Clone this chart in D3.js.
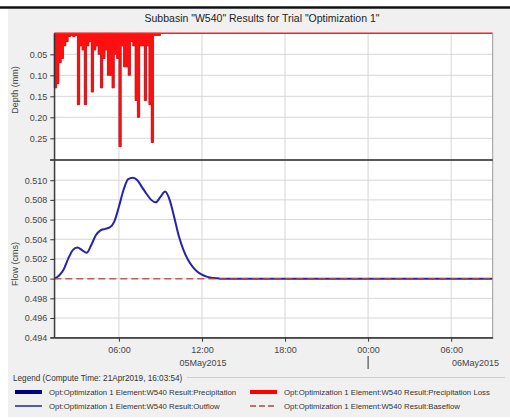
<!DOCTYPE html>
<html><head><meta charset="utf-8">
<script src="https://cdn.jsdelivr.net/npm/d3@7"></script>
<style>body{margin:0;background:#fff}svg{display:block;font-family:"Liberation Sans",Arial,sans-serif}</style>
</head><body><svg id="c" width="510" height="419"></svg>
<script>
// ---- data ----
const lossStart = "2015-05-05T01:20:00Z";
const lossStepMin = 10;
const lossDepth = [0.13,0.12,0.07,0.06,0.03,0.02,0.008,0.005,0.008,0.005,
  0.17,0.03,0.04,0.17,0.03,0.02,0.14,0.04,0.03,0.05,
  0.13,0.06,0.04,0.10,0.10,0.13,0.05,0.06,0.27,0.03,
  0.08,0.08,0.10,0.02,0.03,0.16,0.20,0.03,0.03,0.16,
  0.03,0.17,0.26,0.005,0.005,0.005];
const precipDepth = lossDepth.slice();
const flowTimes = ["2015-05-05T01:20","2015-05-05T01:40","2015-05-05T02:00","2015-05-05T02:20","2015-05-05T02:40",
  "2015-05-05T03:00","2015-05-05T03:20","2015-05-05T03:40","2015-05-05T04:00","2015-05-05T04:20","2015-05-05T04:40",
  "2015-05-05T05:00","2015-05-05T05:20","2015-05-05T05:40","2015-05-05T06:00","2015-05-05T06:20","2015-05-05T06:40",
  "2015-05-05T07:00","2015-05-05T07:20","2015-05-05T07:40","2015-05-05T08:00","2015-05-05T08:20","2015-05-05T08:40",
  "2015-05-05T09:00","2015-05-05T09:20","2015-05-05T09:40","2015-05-05T10:00","2015-05-05T10:20","2015-05-05T10:40",
  "2015-05-05T11:00","2015-05-05T11:20","2015-05-05T11:40","2015-05-05T12:00","2015-05-05T12:20","2015-05-05T12:40",
  "2015-05-05T13:00","2015-05-05T13:20","2015-05-06T09:00"];
const outflow = [0.5000,0.5003,0.5009,0.5020,0.5029,
  0.50315,0.5029,0.50262,0.5034,0.5044,0.5049,
  0.50505,0.5052,0.5058,0.5073,0.5090,0.5101,
  0.51025,0.5100,0.5093,0.5086,0.5080,0.50775,
  0.5083,0.50885,0.5080,0.5062,0.5043,0.5029,
  0.5019,0.5012,0.5007,0.5004,0.5002,0.5001,
  0.50005,0.5000,0.5000];
const baseTimes = ["2015-05-05T01:20","2015-05-06T09:00"];
const baseflow = [0.500,0.500];
const timeDomain = ["2015-05-05T01:20","2015-05-06T09:00"];
const timeTicks = ["2015-05-05T06:00","2015-05-05T12:00","2015-05-05T18:00","2015-05-06T00:00","2015-05-06T06:00"];
const depthTicks = [0.05,0.10,0.15,0.20,0.25];
const flowTicks = [0.494,0.496,0.498,0.500,0.502,0.504,0.506,0.508,0.510];
const title = 'Subbasin "W540" Results for Trial "Optimization 1"';
const legendTitle = "Legend (Compute Time: 21Apr2019, 16:03:54)";
const legendItems = [
  {label:"Opt:Optimization 1 Element:W540 Result:Precipitation", color:"#000080", w:4, dash:null},
  {label:"Opt:Optimization 1 Element:W540 Result:Precipitation Loss", color:"#ff0000", w:4, dash:null},
  {label:"Opt:Optimization 1 Element:W540 Result:Outflow", color:"#2020a8", w:1.5, dash:null},
  {label:"Opt:Optimization 1 Element:W540 Result:Baseflow", color:"#a84848", w:1.5, dash:"6,3"}
];

// ---- drawing ----
const P = s => new Date(s.endsWith("Z") ? s : s + ":00Z");
const svg = d3.select("#c");
const L = 54.3, R = 492.7;
const topY0 = 33.3, topY1 = 159.3, botY0 = 160.5, botY1 = 337.7;

svg.append("rect").attr("x",8).attr("y",9).attr("width",502).attr("height",408).attr("fill","#f0f0f0");
svg.append("line").attr("x1",0).attr("x2",510).attr("y1",7.5).attr("y2",7.5).attr("stroke","#111").attr("stroke-width",2.5);

const x = d3.scaleUtc().domain(timeDomain.map(P)).range([L,R]);
const yD = d3.scaleLinear().domain([0,0.30]).range([topY0,topY1]);
const yF = d3.scaleLinear().domain([0.494,0.512]).range([botY1,botY0]);

svg.append("text").attr("x",262).attr("y",22).attr("text-anchor","middle").attr("font-size",10.5).attr("fill","#222").text(title);

svg.append("rect").attr("x",L).attr("y",topY0).attr("width",R-L).attr("height",botY1-topY0).attr("fill","#fff");

const grid = svg.append("g").attr("stroke","#d6d6d6").attr("stroke-width",1);
timeTicks.map(P).forEach(t=>{
  grid.append("line").attr("x1",x(t)).attr("x2",x(t)).attr("y1",topY0).attr("y2",botY1);
});
depthTicks.forEach(v=>grid.append("line").attr("x1",L).attr("x2",R).attr("y1",yD(v)).attr("y2",yD(v)));
flowTicks.forEach(v=>grid.append("line").attr("x1",L).attr("x2",R).attr("y1",yF(v)).attr("y2",yF(v)));

// precipitation & loss step areas
const t0 = P(lossStart);
const stepData = arr => {
  const d = arr.map((v,i)=>({t:new Date(+t0 + i*lossStepMin*60000), v}));
  d.push({t:new Date(+t0 + arr.length*lossStepMin*60000), v:0});
  return d;
};
const area = d3.area().x(d=>x(d.t)).y0(yD(0)).y1(d=>yD(d.v)).curve(d3.curveStepAfter);
svg.append("path").datum(stepData(precipDepth)).attr("d",area).attr("fill","#000080");
svg.append("path").datum(stepData(lossDepth)).attr("d",area).attr("fill","#ff1010").attr("stroke","#d81818").attr("stroke-width",0.8);
svg.append("line").attr("x1",L).attr("x2",R).attr("y1",yD(0)).attr("y2",yD(0)).attr("stroke","#ff2020").attr("stroke-width",1.5);

// flow lines
const line = d3.line().x(d=>x(d.t)).y(d=>yF(d.v)).curve(d3.curveMonotoneX);
svg.append("path").datum(flowTimes.map((t,i)=>({t:P(t),v:outflow[i]}))).attr("d",line)
  .attr("fill","none").attr("stroke","#2424a8").attr("stroke-width",2);
svg.append("path").datum(baseTimes.map((t,i)=>({t:P(t),v:baseflow[i]}))).attr("d",d3.line().x(d=>x(d.t)).y(d=>yF(d.v)))
  .attr("fill","none").attr("stroke","#b04848").attr("stroke-width",1.5).attr("stroke-dasharray","7,4").attr("opacity",0.85);

// borders
svg.append("line").attr("x1",R).attr("x2",R).attr("y1",topY0).attr("y2",botY1).attr("stroke","#999");
svg.append("line").attr("x1",50).attr("x2",R).attr("y1",160).attr("y2",160).attr("stroke","#222").attr("stroke-width",1.5);

// axes
const axD = svg.append("g").attr("transform",`translate(${L},0)`)
  .call(d3.axisLeft(yD).tickValues(depthTicks).tickSize(4).tickSizeOuter(0).tickFormat(d3.format(".2f")));
const axF = svg.append("g").attr("transform",`translate(${L},0)`)
  .call(d3.axisLeft(yF).tickValues(flowTicks).tickSize(4).tickSizeOuter(0).tickFormat(d3.format(".3f")));
svg.append("line").attr("x1",L).attr("x2",L).attr("y1",topY0).attr("y2",botY1).attr("stroke","#333");
const axX = svg.append("g").attr("transform",`translate(0,${botY1})`)
  .call(d3.axisBottom(x).tickValues(timeTicks.map(P)).tickSize(4).tickSizeOuter(0).tickFormat(d3.utcFormat("%H:%M")));
[axD,axF,axX].forEach(a=>{
  a.select(".domain").attr("stroke","#333");
  a.selectAll(".tick line").attr("stroke","#333");
  a.selectAll("text").attr("font-size",9).attr("fill","#444").attr("font-family","Liberation Sans, Arial, sans-serif");
});
axX.selectAll("text").attr("dy","0.9em");
svg.append("line").attr("x1",L-4).attr("x2",R).attr("y1",botY1).attr("y2",botY1).attr("stroke","#333");

// date labels
svg.append("text").attr("x",x(P("2015-05-05T12:00"))+1).attr("y",366).attr("text-anchor","middle").attr("font-size",9).attr("fill","#444").text("05May2015");
svg.append("text").attr("x",499).attr("y",366).attr("text-anchor","end").attr("font-size",9).attr("fill","#444").text("06May2015");
svg.append("line").attr("x1",x(P("2015-05-06T00:00"))).attr("x2",x(P("2015-05-06T00:00"))).attr("y1",356).attr("y2",369).attr("stroke","#333");

// axis titles
svg.append("text").attr("transform","translate(18,90) rotate(-90)").attr("text-anchor","middle").attr("font-size",9).attr("fill","#444").text("Depth (mm)");
svg.append("text").attr("transform","translate(18,264) rotate(-90)").attr("text-anchor","middle").attr("font-size",9).attr("fill","#444").text("Flow (cms)");

// legend
svg.append("line").attr("x1",187).attr("x2",505).attr("y1",377.5).attr("y2",377.5).attr("stroke","#cfcfcf");
svg.append("text").attr("x",13).attr("y",380.5).attr("font-size",8.2).attr("fill","#333").text(legendTitle);
legendItems.forEach((it,i)=>{
  const col = i%2, row = Math.floor(i/2);
  const sx = col ? 250 : 15, ty = row ? 406 : 392;
  svg.append("line").attr("x1",sx).attr("x2",sx+27).attr("y1",ty).attr("y2",ty)
    .attr("stroke",it.color).attr("stroke-width",it.w).attr("stroke-dasharray",it.dash);
  svg.append("text").attr("x",sx+34).attr("y",ty+3).attr("font-size",7.8).attr("fill","#333").text(it.label);
});
</script></body></html>
